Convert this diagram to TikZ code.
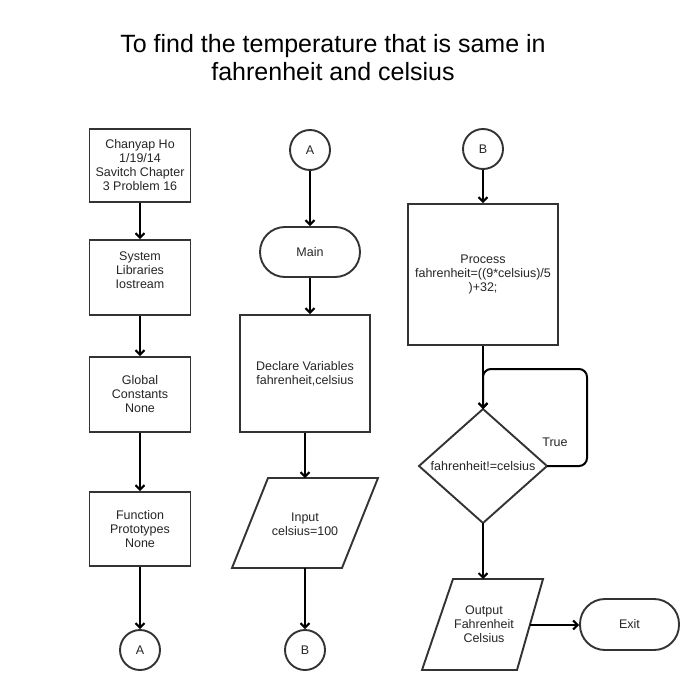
\documentclass[tikz,border=0pt]{standalone}
\usepackage{fontspec}
\setmainfont{Liberation Sans}
\usetikzlibrary{arrows.meta}
\begin{document}
\begin{tikzpicture}[x=1pt,y=-1pt,
  every node/.style={font=\fontsize{12.5}{14}\selectfont, text=black!85, align=center},
  shp/.style={draw=black!80, line width=1.9pt, fill=white},
  boxn/.style={shp, rectangle, inner sep=0pt, minimum width=101pt, minimum height=74pt},
  conn/.style={shp, circle, inner sep=0pt, minimum size=40pt},
  term/.style={shp, rectangle, rounded corners=25pt, inner sep=0pt, minimum width=100pt, minimum height=50pt},
  txt/.style={inner sep=0pt},
  arr/.style={draw=black, line width=2pt, -{Straight Barb[length=4.5pt,width=9pt]}},
]
\fill[white] (0,0) rectangle (700,690);
\useasboundingbox (0,0) rectangle (700,690);

% title
\node[txt, text=black, font=\fontsize{25}{28}\selectfont] (title) at (333,58)
  {To find the temperature that is same in\\fahrenheit and celsius};

% column 1
\node[boxn, minimum height=73pt] (b1) at (140,165.5) {Chanyap Ho\\1/19/14\\Savitch Chapter\\3 Problem 16};
\node[boxn, minimum height=75pt] (b2) at (140,277.5) {System\\Libraries\\Iostream\\\mbox{}};
\node[boxn, minimum height=75pt] (b3) at (140,394.5) {Global\\Constants\\None};
\node[boxn, minimum height=74pt] (b4) at (140,529) {Function\\Prototypes\\None};
\node[conn] (cA1) at (140,650) {A};

\draw[arr] (b1) -- (b2);
\draw[arr] (b2) -- (b3);
\draw[arr] (b3) -- (b4);
\draw[arr] (b4) -- (cA1);

% column 2
\node[conn] (cA2) at (310,150) {A};
\node[term] (main) at (310,252) {Main};
\node[boxn, minimum width=130pt, minimum height=117pt] (decl) at (305,373.5) {Declare Variables\\fahrenheit,celsius};
\draw[shp] (268,478) -- (378,478) -- (342,568) -- (232,568) -- cycle;
\coordinate (inT) at (305,478);
\coordinate (inB) at (305,568);
\node[txt] (input) at (305,524) {Input\\celsius=100};
\node[conn] (cB1) at (305,650) {B};

\draw[arr] (cA2.south) -- (main.north);
\draw[arr] (main.south) -- (main.south |- decl.north);
\draw[arr] (decl.south) -- (inT);
\draw[arr] (inB) -- (cB1);

% column 3
\node[conn] (cB2) at (483,149) {B};
\node[boxn, minimum width=150pt, minimum height=141pt] (proc) at (483,274.5) {Process\\fahrenheit=((9*celsius)/5\\)+32;};
\coordinate (dT) at (483,409);
\coordinate (dB) at (483,523);
\coordinate (dL) at (419,466);
\coordinate (dR) at (547,466);
\draw[shp] (dT) -- (dR) -- (dB) -- (dL) -- cycle;
\node[txt] (dec) at (483,466) {fahrenheit!=celsius};
\coordinate (loopA) at (587,466);
\coordinate (loopB) at (587,369);
\coordinate (loopC) at (483,369);
\node[txt] (true) at (555,442) {True};

\draw[shp] (453,579) -- (543,579) -- (517,670) -- (422,670) -- cycle;
\coordinate (outT) at (483,579);
\coordinate (outR) at (530,625);
\node[txt] (output) at (484,624) {Output\\Fahrenheit\\Celsius};
\node[term, minimum width=99pt, minimum height=51pt] (exit) at (629.5,624.5) {Exit};

\draw[arr] (cB2.south) -- (proc.north);
\draw[arr] (proc.south) -- (dT);
\draw[arr, rounded corners=8pt] (dR) -- (loopA) -- (loopB) -- (loopC) -- (dT);
\draw[arr] (dB) -- (outT);
\draw[arr] (outR) -- (exit.west |- outR);
\end{tikzpicture}
\end{document}
